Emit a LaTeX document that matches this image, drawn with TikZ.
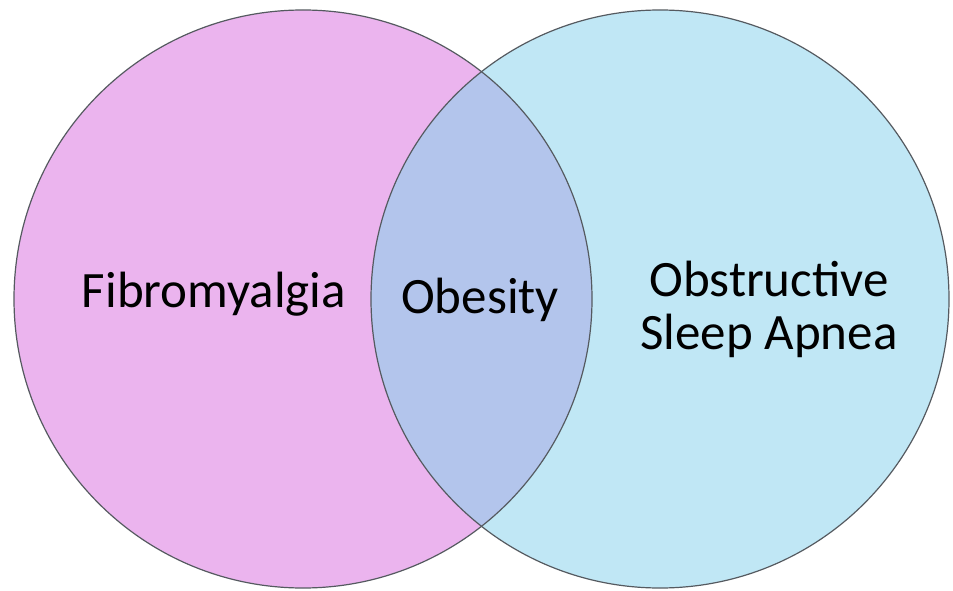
\documentclass[tikz,border=0pt]{standalone}
\usepackage{fontspec}
\setmainfont{Carlito}
\usepackage{xcolor}
\usepackage{tikz}
\usetikzlibrary{positioning}

\definecolor{fibpink}{HTML}{EBB4EE}
\definecolor{osablue}{HTML}{C0E7F5}
\definecolor{overlapblue}{HTML}{B3C5EC}
\definecolor{rimgray}{HTML}{555A60}

\begin{document}
\begin{tikzpicture}[x=1pt,y=1pt,
  every node/.style={font=\fontsize{51}{53}\selectfont,text=black},
  rim/.style={draw=rimgray,line width=1.2pt}]
  \useasboundingbox (0,0) rectangle (953,590);
  \coordinate (fib) at (303,291);
  \coordinate (osa) at (660,291);
  \def\rad{289}
  \fill[fibpink] (fib) circle (\rad);
  \fill[osablue] (osa) circle (\rad);
  \begin{scope}
    \clip (fib) circle (\rad);
    \fill[overlapblue] (osa) circle (\rad);
  \end{scope}
  \draw[rim] (fib) circle (\rad);
  \draw[rim] (osa) circle (\rad);
  \node[anchor=base] (fibro) at (214,283) {Fibromyalgia};
  \node[anchor=base] (obes) at (480,277) {Obesity};
  \node[align=center] (apnea) at (769,281) {Obstructive\\Sleep Apnea};
\end{tikzpicture}
\end{document}
